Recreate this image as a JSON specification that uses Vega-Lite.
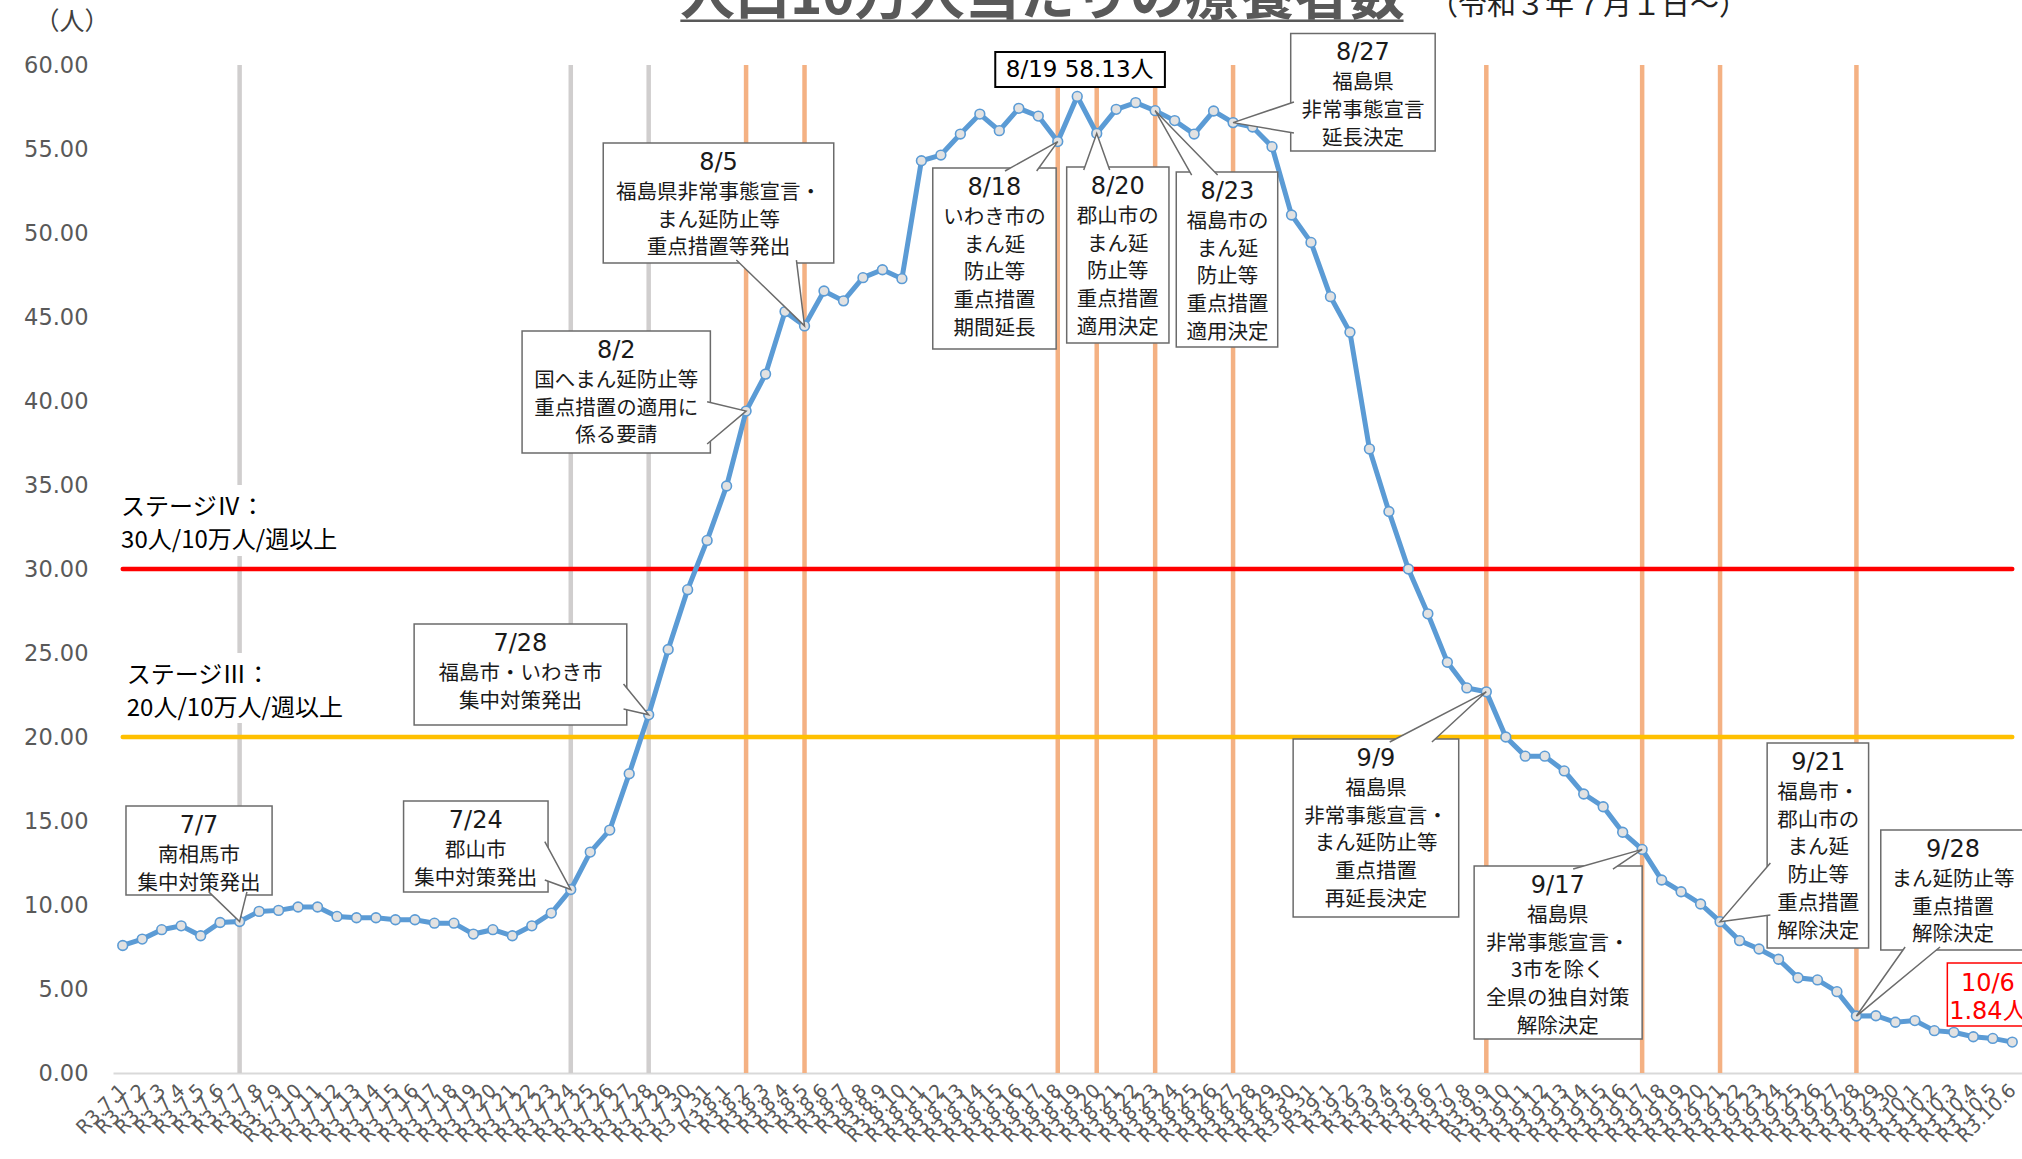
{
  "$schema": "https://vega.github.io/schema/vega-lite/v6.json",
  "width": 1909,
  "height": 1008,
  "autosize": {"type": "none"},
  "padding": {"left": 113, "top": 65, "right": 0, "bottom": 86},
  "background": "white",
  "config": {"view": {"stroke": null}, "text": {"font": "Noto Sans CJK JP"}},
  "datasets": {
    "main": [
      {"d":"2021-07-01","v":7.59},{"d":"2021-07-02","v":7.97},{"d":"2021-07-03","v":8.53},{"d":"2021-07-04","v":8.76},{"d":"2021-07-05","v":8.17},
      {"d":"2021-07-06","v":8.96},{"d":"2021-07-07","v":9.02},{"d":"2021-07-08","v":9.62},{"d":"2021-07-09","v":9.68},{"d":"2021-07-10","v":9.88},
      {"d":"2021-07-11","v":9.88},{"d":"2021-07-12","v":9.32},{"d":"2021-07-13","v":9.24},{"d":"2021-07-14","v":9.24},{"d":"2021-07-15","v":9.12},
      {"d":"2021-07-16","v":9.12},{"d":"2021-07-17","v":8.92},{"d":"2021-07-18","v":8.92},{"d":"2021-07-19","v":8.27},{"d":"2021-07-20","v":8.53},
      {"d":"2021-07-21","v":8.17},{"d":"2021-07-22","v":8.76},{"d":"2021-07-23","v":9.52},{"d":"2021-07-24","v":10.92},{"d":"2021-07-25","v":13.15},
      {"d":"2021-07-26","v":14.46},{"d":"2021-07-27","v":17.81},{"d":"2021-07-28","v":21.32},{"d":"2021-07-29","v":25.21},{"d":"2021-07-30","v":28.77},
      {"d":"2021-07-31","v":31.70},
      {"d":"2021-08-01","v":34.94},{"d":"2021-08-02","v":39.40},{"d":"2021-08-03","v":41.60},{"d":"2021-08-04","v":45.32},{"d":"2021-08-05","v":44.47},
      {"d":"2021-08-06","v":46.55},{"d":"2021-08-07","v":45.96},{"d":"2021-08-08","v":47.34},{"d":"2021-08-09","v":47.81},{"d":"2021-08-10","v":47.28},
      {"d":"2021-08-11","v":54.30},{"d":"2021-08-12","v":54.64},{"d":"2021-08-13","v":55.89},{"d":"2021-08-14","v":57.08},{"d":"2021-08-15","v":56.09},
      {"d":"2021-08-16","v":57.42},{"d":"2021-08-17","v":56.96},{"d":"2021-08-18","v":55.44},{"d":"2021-08-19","v":58.13},{"d":"2021-08-20","v":55.93},
      {"d":"2021-08-21","v":57.36},{"d":"2021-08-22","v":57.76},{"d":"2021-08-23","v":57.28},{"d":"2021-08-24","v":56.69},{"d":"2021-08-25","v":55.89},
      {"d":"2021-08-26","v":57.26},{"d":"2021-08-27","v":56.57},{"d":"2021-08-28","v":56.31},{"d":"2021-08-29","v":55.14},{"d":"2021-08-30","v":51.07},
      {"d":"2021-08-31","v":49.44},
      {"d":"2021-09-01","v":46.21},{"d":"2021-09-02","v":44.09},{"d":"2021-09-03","v":37.15},{"d":"2021-09-04","v":33.42},{"d":"2021-09-05","v":30.00},
      {"d":"2021-09-06","v":27.33},{"d":"2021-09-07","v":24.45},{"d":"2021-09-08","v":22.92},{"d":"2021-09-09","v":22.69},{"d":"2021-09-10","v":20.00},
      {"d":"2021-09-11","v":18.86},{"d":"2021-09-12","v":18.86},{"d":"2021-09-13","v":17.98},{"d":"2021-09-14","v":16.61},{"d":"2021-09-15","v":15.85},
      {"d":"2021-09-16","v":14.33},{"d":"2021-09-17","v":13.31},{"d":"2021-09-18","v":11.49},{"d":"2021-09-19","v":10.79},{"d":"2021-09-20","v":10.06},
      {"d":"2021-09-21","v":9.01},{"d":"2021-09-22","v":7.88},{"d":"2021-09-23","v":7.38},{"d":"2021-09-24","v":6.77},{"d":"2021-09-25","v":5.67},
      {"d":"2021-09-26","v":5.54},{"d":"2021-09-27","v":4.84},{"d":"2021-09-28","v":3.39},{"d":"2021-09-29","v":3.41},{"d":"2021-09-30","v":3.02},
      {"d":"2021-10-01","v":3.12},{"d":"2021-10-02","v":2.52},{"d":"2021-10-03","v":2.42},{"d":"2021-10-04","v":2.16},{"d":"2021-10-05","v":2.06},
      {"d":"2021-10-06","v":1.84}
    ],
    "events": [
      {"d":"2021-07-07","kind":"city"},{"d":"2021-07-24","kind":"city"},{"d":"2021-07-28","kind":"city"},
      {"d":"2021-08-02","kind":"pref"},{"d":"2021-08-05","kind":"pref"},{"d":"2021-08-18","kind":"pref"},{"d":"2021-08-20","kind":"pref"},
      {"d":"2021-08-23","kind":"pref"},{"d":"2021-08-27","kind":"pref"},{"d":"2021-09-09","kind":"pref"},{"d":"2021-09-17","kind":"pref"},
      {"d":"2021-09-21","kind":"pref"},{"d":"2021-09-28","kind":"pref"}
    ],
    "stages": [
      {"stage":"IV","v":30,"from":"2021-07-01","to":"2021-10-06"},
      {"stage":"III","v":20,"from":"2021-07-01","to":"2021-10-06"}
    ],
    "stagetext": [
      {"x1":"2021-06-30T18:00:00Z","x2":"2021-07-13T17:00:00Z","y1":30.77,"y2":35.0,"xt":"2021-06-30T22:00:00Z","yt":33.65,"t":"ステージⅣ：\n30人/10万人/週以上"},
      {"x1":"2021-06-30T18:00:00Z","x2":"2021-07-14T05:00:00Z","y1":20.83,"y2":25.0,"xt":"2021-07-01T05:00:00Z","yt":23.65,"t":"ステージⅢ：\n20人/10万人/週以上"}
    ],
    "boxes": [
      {"id":"7/7","x1":"2021-07-01T04:00:00Z","x2":"2021-07-08T16:00:00Z","xc":"2021-07-04T22:00:00Z","y1":10.60,"y2":15.89,"label":"7/7","body":"南相馬市\n集中対策発出"},
      {"id":"7/24","x1":"2021-07-15T10:00:00Z","x2":"2021-07-22T20:00:00Z","xc":"2021-07-19T03:00:00Z","y1":10.77,"y2":16.19,"label":"7/24","body":"郡山市\n集中対策発出"},
      {"id":"7/28","x1":"2021-07-15T23:00:00Z","x2":"2021-07-26T21:00:00Z","xc":"2021-07-21T10:00:00Z","y1":20.71,"y2":26.73,"label":"7/28","body":"福島市・いわき市\n集中対策発出"},
      {"id":"8/2","x1":"2021-07-21T12:00:00Z","x2":"2021-07-31T04:00:00Z","xc":"2021-07-26T08:00:00Z","y1":36.90,"y2":44.17,"label":"8/2","body":"国へまん延防止等\n重点措置の適用に\n係る要請"},
      {"id":"8/5","x1":"2021-07-25T16:00:00Z","x2":"2021-08-06T12:00:00Z","xc":"2021-07-31T14:00:00Z","y1":48.21,"y2":55.36,"label":"8/5","body":"福島県非常事態宣言・\nまん延防止等\n重点措置等発出"},
      {"id":"8/18","x1":"2021-08-11T14:00:00Z","x2":"2021-08-17T22:00:00Z","xc":"2021-08-14T18:00:00Z","y1":43.10,"y2":53.87,"label":"8/18","body":"いわき市の\nまん延\n防止等\n重点措置\n期間延長"},
      {"id":"8/20","x1":"2021-08-18T11:00:00Z","x2":"2021-08-23T17:00:00Z","xc":"2021-08-21T02:00:00Z","y1":43.45,"y2":53.93,"label":"8/20","body":"郡山市の\nまん延\n防止等\n重点措置\n適用決定"},
      {"id":"8/23","x1":"2021-08-24T02:00:00Z","x2":"2021-08-29T07:00:00Z","xc":"2021-08-26T17:00:00Z","y1":43.21,"y2":53.63,"label":"8/23","body":"福島市の\nまん延\n防止等\n重点措置\n適用決定"},
      {"id":"8/27","x1":"2021-08-29T23:00:00Z","x2":"2021-09-06T09:00:00Z","xc":"2021-09-02T16:00:00Z","y1":54.88,"y2":61.88,"label":"8/27","body":"福島県\n非常事態宣言\n延長決定"},
      {"id":"9/9","x1":"2021-08-30T02:00:00Z","x2":"2021-09-07T14:00:00Z","xc":"2021-09-03T08:00:00Z","y1":9.29,"y2":19.88,"label":"9/9","body":"福島県\n非常事態宣言・\nまん延防止等\n重点措置\n再延長決定"},
      {"id":"9/17","x1":"2021-09-08T09:00:00Z","x2":"2021-09-17T00:00:00Z","xc":"2021-09-12T16:00:00Z","y1":2.02,"y2":12.32,"label":"9/17","body":"福島県\n非常事態宣言・\n3市を除く\n全県の独自対策\n解除決定"},
      {"id":"9/21","x1":"2021-09-23T10:00:00Z","x2":"2021-09-28T15:00:00Z","xc":"2021-09-26T01:00:00Z","y1":7.44,"y2":19.64,"label":"9/21","body":"福島市・\n郡山市の\nまん延\n防止等\n重点措置\n解除決定"},
      {"id":"9/28","x1":"2021-09-29T06:00:00Z","x2":"2021-10-06T16:00:00Z","xc":"2021-10-02T23:00:00Z","y1":7.32,"y2":14.46,"label":"9/28","body":"まん延防止等\n重点措置\n解除決定"}
    ],
    "wedges": [
      {"id":"7/7","o":1,"d":"2021-07-05T10:00:00Z","v":10.78},{"id":"7/7","o":2,"d":"2021-07-07T00:00:00Z","v":9.02},{"id":"7/7","o":3,"d":"2021-07-07T09:00:00Z","v":10.78},
      {"id":"7/24","o":1,"d":"2021-07-22T16:00:00Z","v":13.77},{"id":"7/24","o":2,"d":"2021-07-24T00:00:00Z","v":10.92},{"id":"7/24","o":3,"d":"2021-07-22T16:00:00Z","v":11.49},
      {"id":"7/28","o":1,"d":"2021-07-26T17:00:00Z","v":23.15},{"id":"7/28","o":2,"d":"2021-07-28T00:00:00Z","v":21.32},{"id":"7/28","o":3,"d":"2021-07-26T17:00:00Z","v":21.67},
      {"id":"8/2","o":1,"d":"2021-07-31T00:00:00Z","v":39.95},{"id":"8/2","o":2,"d":"2021-08-02T00:00:00Z","v":39.40},{"id":"8/2","o":3,"d":"2021-07-31T00:00:00Z","v":37.44},
      {"id":"8/5","o":1,"d":"2021-08-01T12:00:00Z","v":48.39},{"id":"8/5","o":2,"d":"2021-08-05T00:00:00Z","v":44.47},{"id":"8/5","o":3,"d":"2021-08-04T14:00:00Z","v":48.39},
      {"id":"8/18","o":1,"d":"2021-08-15T07:00:00Z","v":53.69},{"id":"8/18","o":2,"d":"2021-08-18T00:00:00Z","v":55.44},{"id":"8/18","o":3,"d":"2021-08-16T22:00:00Z","v":53.69},
      {"id":"8/20","o":1,"d":"2021-08-19T08:00:00Z","v":53.75},{"id":"8/20","o":2,"d":"2021-08-20T00:00:00Z","v":55.93},{"id":"8/20","o":3,"d":"2021-08-20T16:00:00Z","v":53.75},
      {"id":"8/23","o":1,"d":"2021-08-24T21:00:00Z","v":53.45},{"id":"8/23","o":2,"d":"2021-08-23T00:00:00Z","v":57.28},{"id":"8/23","o":3,"d":"2021-08-26T05:00:00Z","v":53.45},
      {"id":"8/27","o":1,"d":"2021-08-30T03:00:00Z","v":57.80},{"id":"8/27","o":2,"d":"2021-08-27T00:00:00Z","v":56.57},{"id":"8/27","o":3,"d":"2021-08-30T03:00:00Z","v":55.95},
      {"id":"9/9","o":1,"d":"2021-09-04T01:00:00Z","v":19.70},{"id":"9/9","o":2,"d":"2021-09-09T00:00:00Z","v":22.69},{"id":"9/9","o":3,"d":"2021-09-06T05:00:00Z","v":19.70},
      {"id":"9/17","o":1,"d":"2021-09-13T11:00:00Z","v":12.14},{"id":"9/17","o":2,"d":"2021-09-17T00:00:00Z","v":13.31},{"id":"9/17","o":3,"d":"2021-09-15T12:00:00Z","v":12.14},
      {"id":"9/21","o":1,"d":"2021-09-23T14:00:00Z","v":12.50},{"id":"9/21","o":2,"d":"2021-09-21T00:00:00Z","v":9.01},{"id":"9/21","o":3,"d":"2021-09-23T14:00:00Z","v":9.40},
      {"id":"9/28","o":1,"d":"2021-09-30T12:00:00Z","v":7.50},{"id":"9/28","o":2,"d":"2021-09-28T00:00:00Z","v":3.39},{"id":"9/28","o":3,"d":"2021-10-02T07:00:00Z","v":7.50}
    ]
  },
  "layer": [
    {
      "data": {"name": "events"},
      "transform": [{"filter": "datum.kind === 'city'"}],
      "mark": {"type": "rule", "color": "#D0CECE", "strokeWidth": 4.5},
      "encoding": {"x": {"field": "d", "type": "temporal", "title": null}}
    },
    {
      "data": {"name": "events"},
      "transform": [{"filter": "datum.kind === 'pref'"}],
      "mark": {"type": "rule", "color": "#F4B183", "strokeWidth": 4.5},
      "encoding": {"x": {"field": "d", "type": "temporal", "title": null}}
    },
    {
      "data": {"name": "stagetext"},
      "mark": {"type": "rect", "fill": "white"},
      "encoding": {
        "x": {"field": "x1", "type": "temporal", "title": null},
        "x2": {"field": "x2"},
        "y": {"field": "y1", "type": "quantitative", "title": null},
        "y2": {"field": "y2"}
      }
    },
    {
      "data": {"name": "stagetext"},
      "mark": {"type": "text", "align": "left", "baseline": "middle", "fontSize": 24, "lineHeight": 33, "lineBreak": "\n", "color": "#000000"},
      "encoding": {
        "x": {"field": "xt", "type": "temporal", "title": null},
        "y": {"field": "yt", "type": "quantitative", "title": null},
        "text": {"field": "t"}
      }
    },
    {
      "data": {"name": "stages"},
      "mark": {"type": "rule", "strokeWidth": 4.5, "strokeCap": "round"},
      "encoding": {
        "x": {"field": "from", "type": "temporal", "title": null},
        "x2": {"field": "to"},
        "y": {"field": "v", "type": "quantitative", "title": null},
        "color": {"field": "stage", "type": "nominal", "scale": {"domain": ["IV", "III"], "range": ["#FF0000", "#FFC000"]}, "legend": null}
      }
    },
    {
      "data": {"name": "main"},
      "mark": {"type": "line", "color": "#5B9BD5", "strokeWidth": 5},
      "encoding": {
        "x": {
          "field": "d", "type": "temporal", "title": null,
          "scale": {"type": "utc", "domain": [{"year": 2021, "month": 6, "date": 30, "hours": 12, "utc": true}, {"year": 2021, "month": 10, "date": 6, "hours": 12, "utc": true}]},
          "axis": {
            "tickCount": {"interval": "day", "step": 1},
            "labelExpr": "'R3.' + utcFormat(datum.value, '%-m.%-d')",
            "labelAngle": -45, "labelAlign": "right", "labelBaseline": "middle",
            "labelFont": "DejaVu Sans", "labelFontSize": 19, "labelColor": "#595959",
            "labelPadding": 14, "labelOverlap": false, "labelFlush": false, "labelBound": false, "labelLimit": 0,
            "ticks": false, "grid": false, "domain": true, "domainColor": "#D9D9D9", "domainWidth": 2
          }
        },
        "y": {
          "field": "v", "type": "quantitative", "title": null,
          "scale": {"domain": [0, 60], "nice": false, "zero": true},
          "axis": {
            "values": [0, 5, 10, 15, 20, 25, 30, 35, 40, 45, 50, 55, 60],
            "format": ".2f", "labelFont": "DejaVu Sans", "labelFontSize": 22.5, "labelColor": "#595959",
            "labelPadding": 25, "ticks": false, "grid": false, "domain": false
          }
        }
      }
    },
    {
      "data": {"name": "main"},
      "mark": {"type": "point", "filled": true, "fill": "#E2E2E2", "stroke": "#5B9BD5", "strokeWidth": 1.6, "size": 95, "opacity": 1},
      "encoding": {
        "x": {"field": "d", "type": "temporal", "title": null},
        "y": {"field": "v", "type": "quantitative", "title": null}
      }
    },
    {
      "data": {"name": "boxes"},
      "mark": {"type": "rect", "fill": "white", "stroke": "#6B6B6B", "strokeWidth": 1.5},
      "encoding": {
        "x": {"field": "x1", "type": "temporal", "title": null},
        "x2": {"field": "x2"},
        "y": {"field": "y1", "type": "quantitative", "title": null},
        "y2": {"field": "y2"}
      }
    },
    {
      "data": {"name": "wedges"},
      "mark": {"type": "line", "stroke": "#6B6B6B", "strokeWidth": 1.5, "fill": "white", "strokeJoin": "miter"},
      "encoding": {
        "x": {"field": "d", "type": "temporal", "title": null},
        "y": {"field": "v", "type": "quantitative", "title": null},
        "detail": {"field": "id"},
        "order": {"field": "o", "type": "quantitative"}
      }
    },
    {
      "data": {"name": "boxes"},
      "mark": {"type": "text", "align": "center", "baseline": "top", "dy": 8, "fontSize": 24, "font": "DejaVu Sans", "color": "#1A1A1A"},
      "encoding": {
        "x": {"field": "xc", "type": "temporal", "title": null},
        "y": {"field": "y2", "type": "quantitative", "title": null},
        "text": {"field": "label"}
      }
    },
    {
      "data": {"name": "boxes"},
      "mark": {"type": "text", "align": "center", "baseline": "top", "dy": 40, "fontSize": 20.5, "lineHeight": 27.7, "lineBreak": "\n", "color": "#1A1A1A"},
      "encoding": {
        "x": {"field": "xc", "type": "temporal", "title": null},
        "y": {"field": "y2", "type": "quantitative", "title": null},
        "text": {"field": "body"}
      }
    },
    {
      "data": {"values": [{"x1": "2021-08-14T19:00:00Z", "x2": "2021-08-23T12:00:00Z", "y1": 58.69, "y2": 60.77, "xc": "2021-08-19T03:00:00Z", "yc": 59.73, "t": "8/19 58.13人"}]},
      "layer": [
        {
          "mark": {"type": "rect", "fill": "white", "stroke": "#000000", "strokeWidth": 2},
          "encoding": {
            "x": {"field": "x1", "type": "temporal", "title": null},
            "x2": {"field": "x2"},
            "y": {"field": "y1", "type": "quantitative", "title": null},
            "y2": {"field": "y2"}
          }
        },
        {
          "mark": {"type": "text", "align": "center", "baseline": "middle", "fontSize": 23, "font": "DejaVu Sans, Noto Sans CJK JP", "color": "#000000"},
          "encoding": {
            "x": {"field": "xc", "type": "temporal", "title": null},
            "y": {"field": "yc", "type": "quantitative", "title": null},
            "text": {"field": "t"}
          }
        }
      ]
    },
    {
      "data": {"values": [{"x1": "2021-10-02T16:00:00Z", "x2": "2021-10-06T21:00:00Z", "y1": 2.80, "y2": 6.55, "xc": "2021-10-04T18:00:00Z", "yc": 5.30, "t": "10/6\n1.84人"}]},
      "layer": [
        {
          "mark": {"type": "rect", "fill": "white", "stroke": "#FF0000", "strokeWidth": 1.5},
          "encoding": {
            "x": {"field": "x1", "type": "temporal", "title": null},
            "x2": {"field": "x2"},
            "y": {"field": "y1", "type": "quantitative", "title": null},
            "y2": {"field": "y2"}
          }
        },
        {
          "mark": {"type": "text", "align": "center", "baseline": "middle", "fontSize": 24, "lineHeight": 27.6, "lineBreak": "\n", "font": "DejaVu Sans, Noto Sans CJK JP", "color": "#FF0000"},
          "encoding": {
            "x": {"field": "xc", "type": "temporal", "title": null},
            "y": {"field": "yc", "type": "quantitative", "title": null},
            "text": {"field": "t"}
          }
        }
      ]
    },
    {
      "data": {"values": [{"x": "2021-08-17T05:00:00Z", "y": 63.04, "t": "人口10万人当たりの療養者数"}]},
      "mark": {"type": "text", "align": "center", "baseline": "alphabetic", "fontSize": 55, "fontWeight": "bold", "color": "#595959"},
      "encoding": {
        "x": {"field": "x", "type": "temporal", "title": null},
        "y": {"field": "y", "type": "quantitative", "title": null},
        "text": {"field": "t"}
      }
    },
    {
      "data": {"values": [{"x": "2021-09-14T06:00:00Z", "y": 63.0, "t": "（令和３年７月１日～）"}]},
      "mark": {"type": "text", "align": "center", "baseline": "alphabetic", "fontSize": 29, "color": "#222222"},
      "encoding": {
        "x": {"field": "x", "type": "temporal", "title": null},
        "y": {"field": "y", "type": "quantitative", "title": null},
        "text": {"field": "t"}
      }
    },
    {
      "data": {"values": [{"from": "2021-07-29T15:00:00Z", "to": "2021-09-04T18:00:00Z", "y": 62.64}]},
      "mark": {"type": "rule", "color": "#595959", "strokeWidth": 2.5},
      "encoding": {
        "x": {"field": "from", "type": "temporal", "title": null},
        "x2": {"field": "to"},
        "y": {"field": "y", "type": "quantitative", "title": null}
      }
    },
    {
      "data": {"values": [{"x": "2021-06-28T09:36:00Z", "y": 62.56, "t": "（人）"}]},
      "mark": {"type": "text", "align": "center", "baseline": "middle", "fontSize": 25, "color": "#404040"},
      "encoding": {
        "x": {"field": "x", "type": "temporal", "title": null},
        "y": {"field": "y", "type": "quantitative", "title": null},
        "text": {"field": "t"}
      }
    }
  ]
}
